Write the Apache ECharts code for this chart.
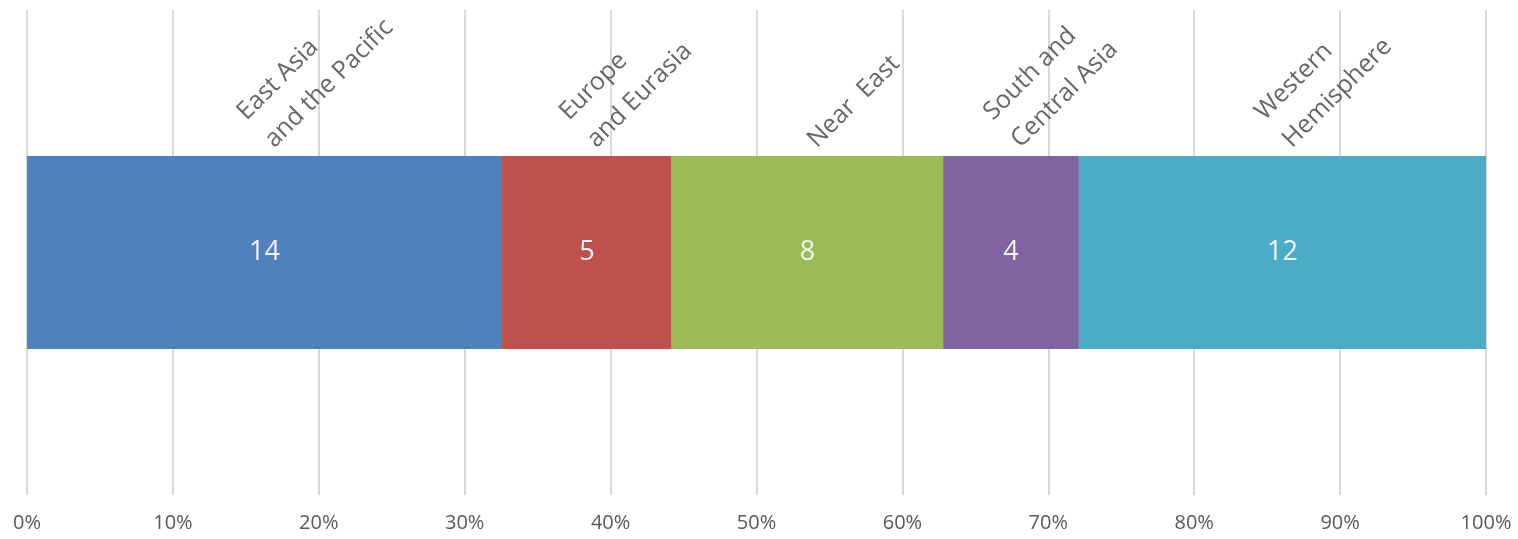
<!DOCTYPE html>
<html>
<head>
<meta charset="utf-8">
<script src="https://cdn.jsdelivr.net/npm/echarts@6/dist/echarts.min.js"></script>
<style>
html,body{margin:0;padding:0;background:#fff;}
#chart{width:1518px;height:539px;}
</style>
</head>
<body>
<div id="chart"></div>
<script>
const regions = ['East Asia\nand the Pacific', 'Europe\nand Eurasia', 'Near  East', 'South and\nCentral Asia', 'Western\nHemisphere'];
const counts = [14, 5, 8, 4, 12];
const colors = ['#4f81bd', '#c0504d', '#9bbb59', '#8064a2', '#4bacc6'];
const xTickLabels = ['0%','10%','20%','30%','40%','50%','60%','70%','80%','90%','100%'];
const category = ['Total'];

const total = counts.reduce((a, b) => a + b, 0);
const pct = counts.map(v => v / total * 100);
const mids = [];
let acc = 0;
pct.forEach(p => { mids.push(acc + p / 2); acc += p; });

const FONT = "'Open Sans', 'DejaVu Sans', sans-serif";

const series = regions.map((name, i) => ({
  name: name,
  type: 'bar',
  stack: 'all',
  barWidth: 193,
  itemStyle: { color: colors[i] },
  label: {
    show: true,
    position: 'inside',
    formatter: () => String(counts[i]),
    color: '#f2f2f2',
    fontFamily: FONT,
    fontSize: 27,
    fontWeight: 500
  },
  data: [pct[i]]
}));

series.push({
  type: 'scatter',
  symbolSize: 0,
  silent: true,
  data: mids.map((m, i) => ({ value: [m, category[0]], name: regions[i] })),
  label: {
    show: true,
    position: 'top',
    distance: 98,
    offset: [11, 15],
    rotate: 45,
    align: 'left',
    verticalAlign: 'bottom',
    formatter: p => p.name,
    color: '#404040',
    fontFamily: FONT,
    fontSize: 25,
    lineHeight: 39
  }
});

const chart = echarts.init(document.getElementById('chart'), null, { renderer: 'canvas' });
chart.setOption({
  animation: false,
  grid: { left: 27, right: 32, top: 10, bottom: 44, containLabel: false },
  xAxis: {
    type: 'value',
    min: 0,
    max: 100,
    interval: 10,
    axisLine: { show: false },
    axisTick: { show: false },
    splitLine: { show: true, lineStyle: { color: '#d9d9d9', width: 2 } },
    axisLabel: {
      formatter: v => xTickLabels[Math.round(v / 10)],
      color: '#595959',
      fontFamily: FONT,
      fontSize: 20,
      margin: 18
    }
  },
  yAxis: {
    type: 'category',
    data: category,
    show: false
  },
  series: series
});
</script>
</body>
</html>
